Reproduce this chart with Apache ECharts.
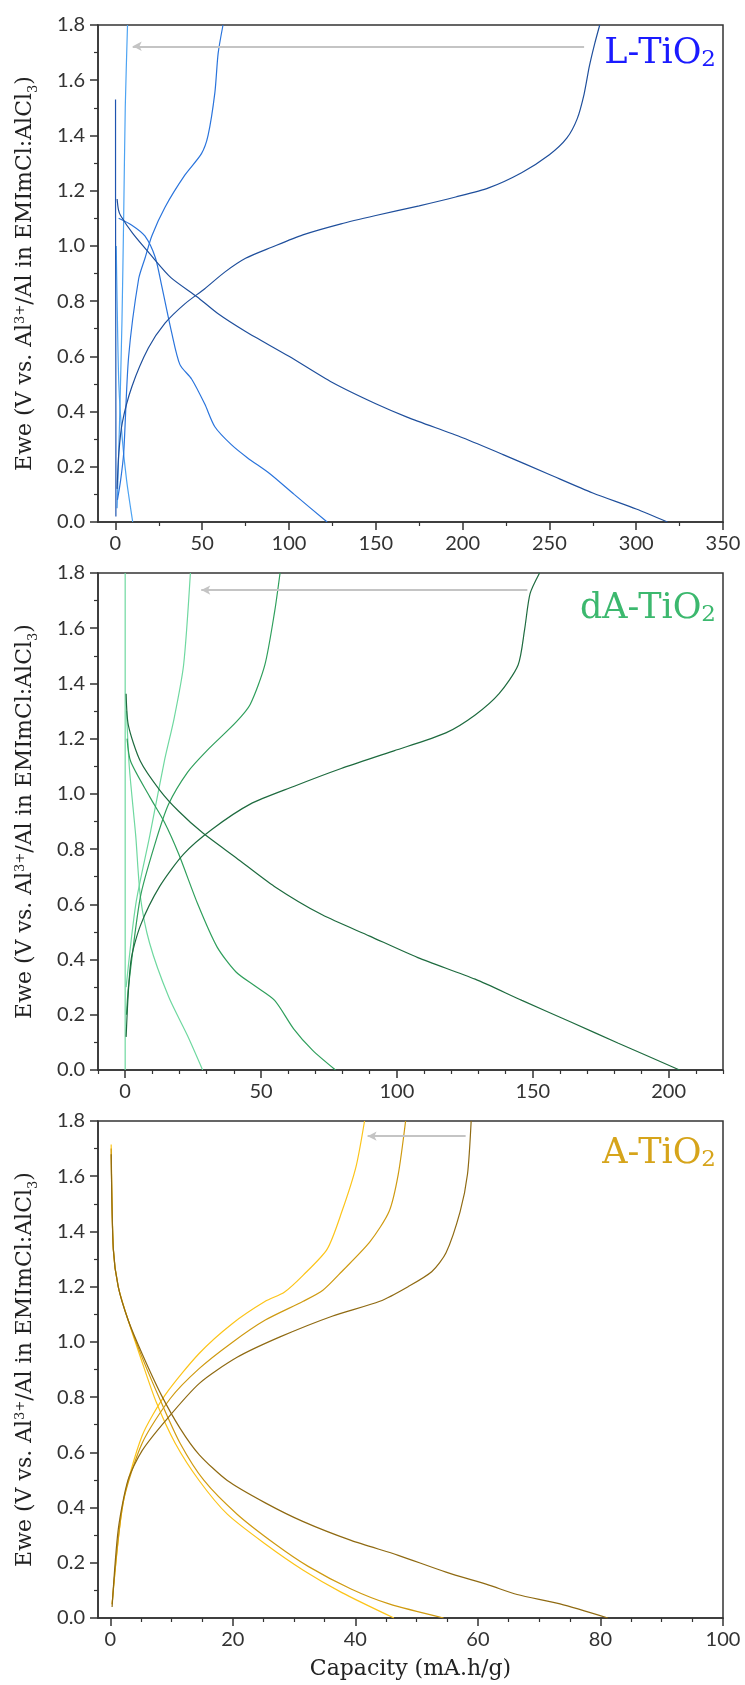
<!DOCTYPE html>
<html><head><meta charset="utf-8">
<script src="https://cdn.jsdelivr.net/npm/echarts@6/dist/echarts.min.js"></script>
<style>html,body{margin:0;padding:0;background:#fff}#c{width:745px;height:1685px}</style>
</head><body><div id="c"></div>
<script>
// ---------- Tick labels ----------
var yTicks = [0,0.2,0.4,0.6,0.8,1.0,1.2,1.4,1.6,1.8];
var xTicksL = [0,50,100,150,200,250,300,350];
var xMinorL = [25,75,125,175,225,275,325];
var xTicksD = [0,50,100,150,200];
var xMinorD = [-10,10,20,30,40,60,70,80,90,110,120,130,140,160,170,180,190,210,220];
var xTicksA = [0,20,40,60,80,100];
var xMinorA = [5,10,15,25,30,35,45,50,55,65,70,75,85,90,95];

// ---------- L-TiO2 ----------
var L_dark_spike = [[0.1,1.53],[0.1,1.2],[0.2,0.8],[0.3,0.4],[0.3,0.02]];
var L_dark_dis = [[1,1.17],[1.8,1.13],[3,1.11],[10,1.045],[20,0.97],[32,0.885],[47,0.816],[59,0.755],[75,0.69],[100,0.60],[125,0.505],[150,0.428],[168,0.38],[200,0.305],[223,0.245],[250,0.172],[275,0.105],[300,0.047],[318,0]];
var L_dark_chg = [[1,0.12],[2,0.25],[4,0.36],[9.5,0.49],[19,0.63],[28.6,0.72],[40,0.79],[51.5,0.845],[63,0.905],[75,0.955],[90,0.995],[108,1.04],[130,1.08],[150,1.11],[175,1.145],[196,1.177],[215,1.21],[234,1.265],[250,1.33],[260,1.39],[266,1.46],[270,1.55],[273,1.65],[276,1.73],[279,1.8]];
var L_mid_dis = [[1.9,1.1],[9.5,1.075],[17,1.036],[23,0.958],[26.7,0.855],[32.4,0.687],[37.2,0.57],[43.9,0.518],[51.5,0.427],[57.3,0.345],[66.8,0.28],[76,0.233],[89,0.175],[103,0.1],[122,0]];
var L_mid_chg = [[1.2,0.08],[3,0.15],[4.8,0.25],[7.6,0.596],[13.4,0.88],[17.2,0.958],[21,1.036],[28.6,1.14],[40,1.256],[49.6,1.334],[53.4,1.4],[57.3,1.554],[59.2,1.697],[62,1.8]];
var L_light_dis = [[0.5,1.0],[1,0.8],[2,0.5],[4,0.3],[6.5,0.15],[10,0]];
var L_light_chg = [[1,0.05],[2.3,0.337],[3.8,0.725],[4.8,1.11],[5.7,1.5],[7,1.8]];
var L_arrow = [[270,1.723],[10,1.723]];

// ---------- dA-TiO2 ----------
var D_dark_dis = [[0.35,1.363],[1.2,1.247],[5.6,1.118],[12.7,1.014],[19.7,0.937],[28.5,0.859],[40.8,0.769],[54.9,0.665],[72.5,0.562],[90,0.485],[107.7,0.407],[128.8,0.329],[146,0.252],[164,0.174],[181.5,0.097],[204,0]];
var D_dark_chg = [[0.35,0.12],[2.1,0.394],[5.6,0.523],[12.7,0.665],[21.5,0.782],[32,0.872],[46,0.963],[62,1.027],[79.5,1.092],[98.9,1.156],[118,1.221],[128.8,1.286],[137.6,1.363],[144.6,1.467],[147,1.596],[149,1.725],[152.5,1.8]];
var D_mid_dis = [[0.7,1.2],[2,1.118],[9,0.99],[14.4,0.898],[19.7,0.782],[26.7,0.601],[33.8,0.446],[40.8,0.355],[47.8,0.304],[55,0.252],[62,0.149],[69,0.071],[77.4,0]];
var D_mid_chg = [[0.5,0.2],[1.2,0.3],[5.6,0.627],[11,0.82],[16,0.963],[23,1.079],[30,1.156],[40.8,1.26],[46,1.324],[51.4,1.467],[55,1.66],[57,1.8]];
var D_light_vert = [[0,0],[0,1.8]];
var D_light_dis = [[0.5,1.3],[1.5,1.1],[3.9,0.846],[5.6,0.627],[9,0.459],[16,0.265],[23,0.123],[28.5,0]];
var D_light_chg = [[0.35,0.3],[3.9,0.6],[9,0.846],[14.4,1.118],[18,1.273],[21.5,1.467],[24,1.8]];
var D_arrow = [[148,1.738],[28,1.738]];

// ---------- A-TiO2 ----------
var A_dark_dis = [[0.15,1.68],[0.5,1.336],[1.3,1.2],[2.9,1.08],[5.2,0.957],[8.3,0.809],[11.4,0.687],[14.5,0.592],[19.1,0.498],[25.3,0.417],[31.5,0.349],[39.3,0.281],[47,0.227],[54.8,0.166],[61.8,0.119],[66.4,0.085],[73.4,0.051],[81.2,0]];
var A_dark_chg = [[0.3,0.04],[1.3,0.32],[2.9,0.5],[5.2,0.606],[9,0.714],[14.5,0.849],[20.7,0.944],[27.7,1.018],[36.2,1.093],[44,1.147],[48.6,1.2],[52.5,1.255],[54.8,1.323],[57.1,1.472],[58.3,1.607],[58.9,1.8]];
var A_mid_dis = [[0.15,1.7],[0.5,1.336],[1.3,1.2],[2.9,1.08],[5.2,0.944],[8.3,0.782],[11.4,0.633],[15.3,0.498],[20.7,0.376],[26.9,0.268],[32.3,0.187],[39.3,0.105],[45.5,0.051],[54.4,0]];
var A_mid_chg = [[0.3,0.05],[2.1,0.417],[5.2,0.633],[9.8,0.795],[14.5,0.903],[19.9,0.998],[25.3,1.079],[31.5,1.147],[34.7,1.187],[37.8,1.255],[42.4,1.363],[45.5,1.472],[47,1.607],[48.2,1.8]];
var A_light_dis = [[0.15,1.715],[0.5,1.336],[1.3,1.2],[2.9,1.08],[5,0.94],[7.5,0.782],[10.6,0.633],[14.5,0.498],[19.1,0.376],[25.3,0.268],[31.5,0.173],[37.8,0.092],[46.3,0]];
var A_light_chg = [[0.3,0.05],[2.1,0.417],[5.2,0.66],[9,0.809],[14.5,0.958],[19.9,1.066],[25.3,1.147],[28.4,1.18],[31.5,1.242],[35.4,1.336],[37.8,1.472],[40.1,1.634],[41.5,1.8]];
var A_arrow = [[58,1.745],[42,1.745]];

// ---------- build ----------
var SERIF = '"DejaVu Serif", serif';
var SANS = 'Lato, sans-serif';
var AXC = '#333';
var panels = [
  {top:25, min:-10, max:350, ticks:xTicksL, minor:xMinorL, arrow:L_arrow, label:'L-TiO', labelColor:'#1a1aff', labelDy:6,
   curves:[[L_light_dis,'#4da3f2'],[L_light_chg,'#4da3f2'],[L_mid_dis,'#2a74dc'],[L_mid_chg,'#2a74dc'],[L_dark_spike,'#1f55b0'],[L_dark_dis,'#1f4f9c'],[L_dark_chg,'#1f4f9c']]},
  {top:573, min:-10, max:220, ticks:xTicksD, minor:xMinorD, arrow:D_arrow, label:'dA-TiO', labelColor:'#3cb86e', labelDy:13,
   curves:[[D_light_vert,'#6fd8a0'],[D_light_dis,'#6fd8a0'],[D_light_chg,'#6fd8a0'],[D_mid_dis,'#2f9f5c'],[D_mid_chg,'#2f9f5c'],[D_dark_dis,'#1e6b3f'],[D_dark_chg,'#1e6b3f']]},
  {top:1121, min:-2, max:100, ticks:xTicksA, minor:xMinorA, arrow:A_arrow, label:'A-TiO', labelColor:'#d6a41a', labelDy:10,
   curves:[[A_light_dis,'#fcc419'],[A_light_chg,'#fcc419'],[A_mid_dis,'#cf9a10'],[A_mid_chg,'#cf9a10'],[A_dark_dis,'#8f6a12'],[A_dark_chg,'#8f6a12']]}
];

var option = {animation:false, backgroundColor:'#fff', grid:[], xAxis:[], yAxis:[], series:[], title:[]};
panels.forEach(function(p, i){
  option.grid.push({left:98, right:22, top:p.top, height:497, show:true, borderColor:AXC, borderWidth:1.5, backgroundColor:'transparent'});
  option.xAxis.push({type:'value', gridIndex:i, min:p.min, max:p.max, position:'bottom',
    axisLine:{show:true, onZero:false, lineStyle:{color:AXC, width:1.5}},
    axisTick:{show:true, inside:false, length:8, lineStyle:{color:AXC, width:1.5}, customValues:p.ticks},
    axisLabel:{show:true, customValues:p.ticks, margin:12, fontSize:20, color:'#333', fontFamily:SANS},
    splitLine:{show:false},
    name: i===2 ? 'Capacity (mA.h/g)' : '', nameLocation:'middle', nameGap:40,
    nameTextStyle:{fontFamily:SERIF, fontSize:22, color:'#222'}});
  option.xAxis.push({type:'value', gridIndex:i, min:p.min, max:p.max, position:'bottom',
    axisLine:{show:false}, axisLabel:{show:false}, splitLine:{show:false},
    axisTick:{show:true, inside:false, length:4, lineStyle:{color:AXC, width:1.2}, customValues:p.minor}});
  option.yAxis.push({type:'value', gridIndex:i, min:0, max:1.8, interval:0.2,
    axisLine:{show:true, onZero:false, lineStyle:{color:AXC, width:1.5}},
    axisTick:{show:true, inside:false, length:8, lineStyle:{color:AXC, width:1.5}},
    minorTick:{show:true, splitNumber:2, length:4, lineStyle:{color:AXC, width:1.2}},
    axisLabel:{margin:13, fontSize:20, color:'#333', fontFamily:SANS, formatter:function(v){return v.toFixed(1);}},
    splitLine:{show:false},
    name:'{n|Ewe (V vs. Al}{sup|3+}{n|/Al in EMImCl:AlCl}{sub|3}{n|)}', nameLocation:'middle', nameRotate:90, nameGap:58,
    nameTextStyle:{color:'#222', rich:{
      n:{fontFamily:SERIF, fontSize:22, lineHeight:26, verticalAlign:'top', color:'#222'},
      sup:{fontFamily:SERIF, fontSize:13, lineHeight:13, verticalAlign:'top', color:'#222'},
      sub:{fontFamily:SERIF, fontSize:13, lineHeight:13, padding:[14,0,0,0], verticalAlign:'bottom', color:'#222'}}}});
  p.curves.forEach(function(c){
    option.series.push({type:'line', xAxisIndex:2*i, yAxisIndex:i, data:c[0], showSymbol:false, symbol:'none',
      smooth:0.25, lineStyle:{color:c[1], width:1.2}, silent:true, z:3});
  });
  option.series.push({type:'line', xAxisIndex:2*i, yAxisIndex:i, data:[], silent:true,
    markLine:{silent:true, symbol:['arrow','none'], symbolSize:[7,9], label:{show:false},
      lineStyle:{color:'#c4c4c4', width:2, type:'solid'},
      data:[[{coord:p.arrow[1]},{coord:p.arrow[0]}]]}});
  option.title.push({text:'{m|'+p.label+'}{s|2}', right:24, top:p.top+p.labelDy,
    textStyle:{fontWeight:'normal', rich:{
      m:{fontFamily:SERIF, fontSize:35, fontWeight:'normal', lineHeight:36, verticalAlign:'top', color:p.labelColor},
      s:{fontFamily:SERIF, fontSize:23, fontWeight:'normal', lineHeight:23, padding:[25,0,0,0], verticalAlign:'bottom', color:p.labelColor}}}});
});
var chart = echarts.init(document.getElementById('c'), null, {renderer:'canvas'});
chart.setOption(option);
</script></body></html>
